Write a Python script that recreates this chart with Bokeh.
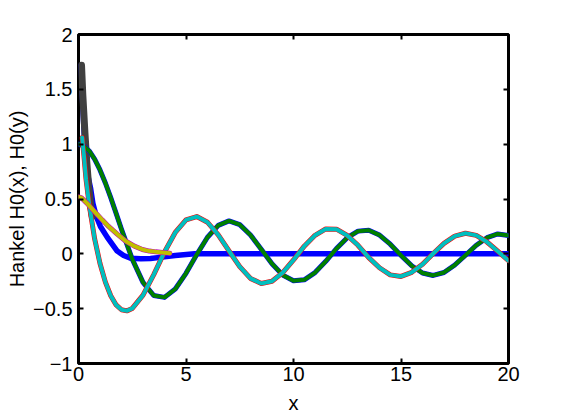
from bokeh.plotting import figure
from bokeh.models import Range1d, FixedTicker, LinearAxis, CustomLabelingPolicy
from bokeh.embed import file_html
from bokeh.resources import INLINE

# ---- data ----
x_j0 = [0, 0.25, 0.5, 0.75, 1, 1.25, 1.5, 1.75, 2, 2.5, 3, 3.5, 4, 4.5, 5, 5.5, 6, 6.5, 7, 7.5,
        8, 8.5, 9, 9.5, 10, 10.5, 11, 11.5, 12, 12.5, 13, 13.5, 14, 14.5, 15, 15.5, 16, 16.5,
        17, 17.5, 18, 18.5, 19, 19.5, 20]
y_j0 = [1.0, 0.984, 0.938, 0.864, 0.765, 0.646, 0.512, 0.369, 0.224, -0.048, -0.260, -0.380,
        -0.397, -0.321, -0.178, -0.007, 0.151, 0.260, 0.300, 0.266, 0.172, 0.042, -0.090,
        -0.194, -0.246, -0.237, -0.171, -0.068, 0.048, 0.147, 0.207, 0.215, 0.171, 0.088,
        -0.014, -0.109, -0.175, -0.197, -0.170, -0.102, -0.013, 0.078, 0.147, 0.181, 0.167]

x_y0 = [0.17, 0.25, 0.35, 0.5, 0.75, 1, 1.25, 1.5, 1.75, 2, 2.25, 2.5, 3, 3.5, 4,
        4.5, 5, 5.5, 6, 6.5, 7, 7.5, 8, 8.5, 9, 9.5, 10, 10.5, 11, 11.5, 12, 12.5, 13, 13.5,
        14, 14.5, 15, 15.5, 16, 16.5, 17, 17.5, 18, 18.5, 19, 19.5, 20]
y_y0 = [1.06, 0.90, 0.68, 0.445, 0.137, -0.088, -0.258, -0.382, -0.466,
        -0.510, -0.520, -0.498, -0.377, -0.189, 0.017, 0.195, 0.309, 0.340, 0.288, 0.173,
        0.026, -0.117, -0.224, -0.270, -0.250, -0.171, -0.056, 0.070, 0.169, 0.227, 0.225,
        0.168, 0.078, -0.034, -0.127, -0.192, -0.206, -0.169, -0.096, 0.003, 0.095, 0.162,
        0.188, 0.168, 0.108, 0.024, -0.063]

x_yel = [0, 0.14, 0.4, 0.79, 1.1, 1.4, 1.8, 2.19, 2.6, 2.97, 3.3, 3.59, 3.9, 4.25]
y_yel = [0.52, 0.51, 0.46, 0.375, 0.31, 0.25, 0.18, 0.117, 0.07, 0.04, 0.025, 0.018, 0.012, 0.005]

x_blu = [0.12, 0.17, 0.22, 0.33, 0.45, 0.56, 0.67, 0.79, 0.87, 1.02, 1.34, 1.8, 2.1, 2.42, 2.9,
         3.35, 3.9, 4.5, 5.4, 7, 10, 15, 20]
y_blu = [1.72, 1.50, 1.27, 0.85, 0.70, 0.60, 0.46, 0.37, 0.32, 0.25, 0.15, 0.025, -0.015, -0.04,
         -0.045, -0.042, -0.03, -0.015, 0.0, 0.0, 0.0, 0.0, 0.0]

x_gry = [0.14, 0.2, 0.3, 0.38, 0.47, 0.56, 0.64]
y_gry = [1.72, 1.45, 1.10, 0.85, 0.62, 0.45, 0.34]

x_ticks = [0, 5, 10, 15, 20]
y_ticks = [-1, -0.5, 0, 0.5, 1, 1.5, 2]
y_tick_labels = ["\u22121", "\u22120.5", "0", "0.5", "1", "1.5", "2"]
x_label = "x"
y_label = "Hankel H0(x), H0(y)"

FONT = "Liberation Sans"

p = figure(frame_width=430, frame_height=329, x_range=Range1d(0, 20), y_range=Range1d(-1, 2),
           output_backend="svg", toolbar_location=None,
           min_border_left=78, min_border_right=53, min_border_top=34, min_border_bottom=55)
p.grid.visible = False
p.background_fill_color = "white"
p.border_fill_color = "white"
p.outline_line_color = "black"
p.outline_line_width = 3
p.outline_line_alpha = 1.0

def style_axis(ax, ticks, labels=True):
    ax.ticker = FixedTicker(ticks=ticks)
    ax.axis_line_color = None
    ax.major_tick_in = 5
    ax.major_tick_out = 0
    ax.major_tick_line_width = 2
    ax.major_tick_line_color = "black"
    ax.minor_tick_line_color = None
    ax.major_label_text_font = FONT
    ax.major_label_text_color = "black"
    ax.major_label_text_font_size = "20px"
    if not labels:
        ax.major_label_standoff = 0
        ax.major_label_policy = CustomLabelingPolicy(code="return new Set()")

style_axis(p.xaxis[0], x_ticks)
style_axis(p.yaxis[0], y_ticks)
p.xaxis[0].major_label_standoff = 3
p.yaxis[0].major_label_standoff = 6
p.yaxis[0].major_label_overrides = {t: l for t, l in zip(y_ticks, y_tick_labels)}

p.xaxis[0].axis_label = x_label
p.yaxis[0].axis_label = y_label
for ax in (p.xaxis[0], p.yaxis[0]):
    ax.axis_label_text_font = FONT
    ax.axis_label_text_font_size = "20px"
    ax.axis_label_text_font_style = "normal"
    ax.axis_label_text_color = "black"
p.xaxis[0].axis_label_standoff = 8
p.yaxis[0].axis_label_standoff = 2

top = LinearAxis()
style_axis(top, x_ticks, labels=False)
p.add_layout(top, "above")
right = LinearAxis()
style_axis(right, y_ticks, labels=False)
p.add_layout(right, "right")

kw = dict(line_join="round", line_cap="round")
p.line(x_blu, y_blu, line_color="#0000FF", line_width=5.5, **kw)
p.line(x_gry, y_gry, line_color="#404040", line_width=7, **kw)
p.line(x_j0, y_j0, line_color="#0000FF", line_width=5, **kw)
p.line(x_j0, y_j0, line_color="#008000", line_width=4, **kw)
p.line(x_y0, y_y0, line_color="#FF0000", line_width=5, **kw)
p.line(x_y0, y_y0, line_color="#00BFBF", line_width=4, **kw)
p.line(x_yel, y_yel, line_color="#BF00BF", line_width=5, **kw)
p.line(x_yel, y_yel, line_color="#BFBF00", line_width=4, **kw)

open("out.html", "w").write(file_html(p, INLINE))
